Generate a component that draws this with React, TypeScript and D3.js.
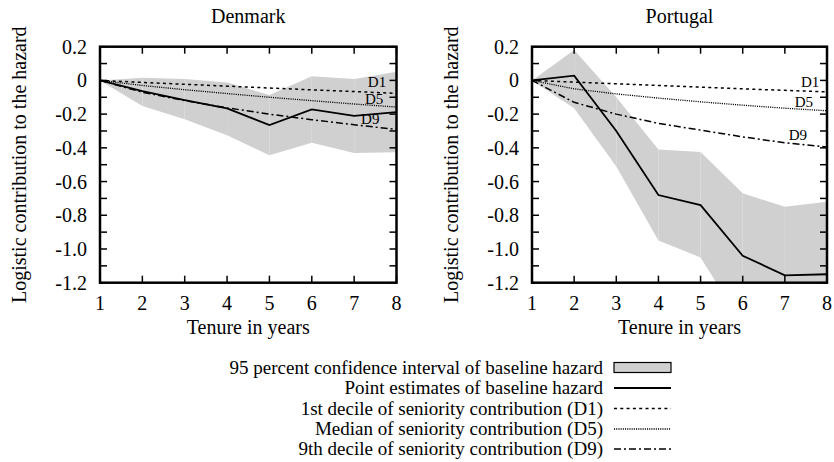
import React from "react";
import * as d3 from "d3";

const years = [1, 2, 3, 4, 5, 6, 7, 8];

const dkPoint = [0, -0.063, -0.117, -0.166, -0.265, -0.172, -0.21, -0.188];
const dkUpper = [0, 0.016, 0.008, -0.012, -0.087, 0.024, 0.008, 0.051];
const dkLower = [0, -0.152, -0.23, -0.325, -0.444, -0.37, -0.43, -0.426];
const dkD1 = [0, -0.012, -0.023, -0.034, -0.045, -0.056, -0.066, -0.077];
const dkD5 = [0, -0.03, -0.055, -0.078, -0.1, -0.12, -0.14, -0.158];
const dkD9 = [0, -0.07, -0.12, -0.163, -0.2, -0.233, -0.263, -0.291];

const ptPoint = [0, 0.028, -0.3, -0.68, -0.74, -1.04, -1.156, -1.15];
const ptUpper = [0, 0.18, -0.1, -0.41, -0.424, -0.67, -0.75, -0.72];
const ptLower = [0, -0.165, -0.51, -0.95, -1.05, -1.45, -1.6, -1.6];
const ptD1 = [0, -0.01, -0.02, -0.03, -0.04, -0.05, -0.059, -0.068];
const ptD5 = [0, -0.05, -0.08, -0.105, -0.127, -0.147, -0.165, -0.18];
const ptD9 = [0, -0.13, -0.2, -0.255, -0.295, -0.335, -0.37, -0.395];

const yTickValues = [0.2, 0, -0.2, -0.4, -0.6, -0.8, -1.0, -1.2];
const yMinorTicks = d3.range(-12, 3).map((v) => v / 10);

const legendLabels = [
  "95 percent confidence interval of baseline hazard",
  "Point estimates of baseline hazard",
  "1st decile of seniority contribution (D1)",
  "Median of seniority contribution (D5)",
  "9th decile of seniority contribution (D9)",
];

const FONT = 'Liberation Serif, "Liberation Serif", Tinos, "DejaVu Serif", "Noto Serif", Times, serif';
const DASH_D1 = "3,3.3";
const DASH_D5 = "1.1,1.1";
const DASH_D9 = "7,3,2,3";

type Panel = {
  title: string;
  left: number;
  right: number;
  point: number[];
  upper: number[];
  lower: number[];
  d1: number[];
  d5: number[];
  d9: number[];
  labels: { text: string; x: number; y: number }[];
};

const panels: Panel[] = [
  {
    title: "Denmark",
    left: 100,
    right: 396.5,
    point: dkPoint,
    upper: dkUpper,
    lower: dkLower,
    d1: dkD1,
    d5: dkD5,
    d9: dkD9,
    labels: [
      { text: "D1", x: 7.54, y: -0.04 },
      { text: "D5", x: 7.47, y: -0.14 },
      { text: "D9", x: 7.38, y: -0.26 },
    ],
  },
  {
    title: "Portugal",
    left: 532,
    right: 827,
    point: ptPoint,
    upper: ptUpper,
    lower: ptLower,
    d1: ptD1,
    d5: ptD5,
    d9: ptD9,
    labels: [
      { text: "D1", x: 7.6, y: -0.04 },
      { text: "D5", x: 7.45, y: -0.158 },
      { text: "D9", x: 7.31, y: -0.353 },
    ],
  },
];

const TOP = 46.7;
const BOTTOM = 282.7;

const fmt = (d: number) => (Math.abs(d) < 1e-9 ? "0" : d.toFixed(1));

function PanelView({ p, idx }: { p: Panel; idx: number }) {
  const x = d3.scaleLinear().domain([1, 8]).range([p.left, p.right]);
  const y = d3.scaleLinear().domain([-1.2, 0.2]).range([BOTTOM, TOP]);
  const line = d3
    .line<number>()
    .x((_, i) => x(years[i]))
    .y((d) => y(d));
  const clipId = `clip${idx}`;
  const segs = years.slice(0, -1).map((yr, i) => {
    const pts = [
      [x(yr), y(p.upper[i])],
      [x(years[i + 1]), y(p.upper[i + 1])],
      [x(years[i + 1]), y(p.lower[i + 1])],
      [x(yr), y(p.lower[i])],
    ];
    return "M" + pts.map((q) => q.join(",")).join("L") + "Z";
  });
  const cx = (p.left + p.right) / 2;
  const cy = (TOP + BOTTOM) / 2;
  const T = 7;
  return (
    <g>
      <defs>
        <clipPath id={clipId}>
          <rect x={p.left} y={TOP} width={p.right - p.left} height={BOTTOM - TOP} />
        </clipPath>
      </defs>
      <text x={cx} y={23} textAnchor="middle" fontSize={20}>
        {p.title}
      </text>
      <g clipPath={`url(#${clipId})`}>
        {segs.map((s, i) => (
          <path key={i} d={s} fill="#d0d0d0" stroke="none" />
        ))}
        <path d={line(p.d1) || ""} fill="none" stroke="#000" strokeWidth={1.5} strokeDasharray={DASH_D1} />
        <path d={line(p.d5) || ""} fill="none" stroke="#000" strokeWidth={1.3} strokeDasharray={DASH_D5} />
        <path d={line(p.d9) || ""} fill="none" stroke="#000" strokeWidth={1.5} strokeDasharray={DASH_D9} />
        <path d={line(p.point) || ""} fill="none" stroke="#000" strokeWidth={1.8} />
      </g>
      {p.labels.map((l) => (
        <text key={l.text} x={x(l.x)} y={y(l.y)} textAnchor="middle" fontSize={15}>
          {l.text}
        </text>
      ))}
      {yMinorTicks.map((v) => (
        <g key={"y" + v}>
          <line x1={p.left} x2={p.left + T} y1={y(v)} y2={y(v)} stroke="#000" strokeWidth={1.5} />
          <line x1={p.right} x2={p.right - T} y1={y(v)} y2={y(v)} stroke="#000" strokeWidth={1.5} />
        </g>
      ))}
      {years.map((v) => (
        <g key={"x" + v}>
          <line x1={x(v)} x2={x(v)} y1={BOTTOM} y2={BOTTOM - T} stroke="#000" strokeWidth={1.5} />
          <line x1={x(v)} x2={x(v)} y1={TOP} y2={TOP + T} stroke="#000" strokeWidth={1.5} />
          <text x={x(v)} y={310} textAnchor="middle" fontSize={20}>
            {v}
          </text>
        </g>
      ))}
      {yTickValues.map((v) => (
        <text key={"yl" + v} x={p.left - 13} y={y(v)} dy="0.35em" textAnchor="end" fontSize={20}>
          {fmt(v)}
        </text>
      ))}
      <rect x={p.left} y={TOP} width={p.right - p.left} height={BOTTOM - TOP} fill="none" stroke="#000" strokeWidth={2.5} />
      <text x={cx} y={334} textAnchor="middle" fontSize={20}>
        Tenure in years
      </text>
      <text transform={`translate(${p.left - 74},${cy}) rotate(-90)`} textAnchor="middle" fontSize={20}>
        Logistic contribution to the hazard
      </text>
    </g>
  );
}

export default function App() {
  const rowY = [367.5, 388, 408.5, 429, 449];
  const tx = 603;
  const sx0 = 614;
  const sx1 = 671;
  return (
    <svg
      width={834}
      height={462}
      style={{ position: "absolute", left: 0, top: 0, background: "#fff", fontFamily: FONT }}
    >
      <rect width={834} height={462} fill="#fff" />
      {panels.map((p, i) => (
        <PanelView key={p.title} p={p} idx={i} />
      ))}
      {legendLabels.map((t, i) => (
        <text key={t} x={tx} y={rowY[i]} dy="0.33em" textAnchor="end" fontSize={19}>
          {t}
        </text>
      ))}
      <rect x={sx0} y={rowY[0] - 5} width={sx1 - sx0} height={10} fill="#d0d0d0" stroke="#000" strokeWidth={1.2} />
      <line x1={sx0} x2={sx1} y1={rowY[1]} y2={rowY[1]} stroke="#000" strokeWidth={1.8} />
      <line x1={sx0} x2={sx1} y1={rowY[2]} y2={rowY[2]} stroke="#000" strokeWidth={1.5} strokeDasharray={DASH_D1} />
      <line x1={sx0} x2={sx1} y1={rowY[3]} y2={rowY[3]} stroke="#000" strokeWidth={1.3} strokeDasharray={DASH_D5} />
      <line x1={sx0} x2={sx1} y1={rowY[4]} y2={rowY[4]} stroke="#000" strokeWidth={1.5} strokeDasharray={DASH_D9} />
    </svg>
  );
}
